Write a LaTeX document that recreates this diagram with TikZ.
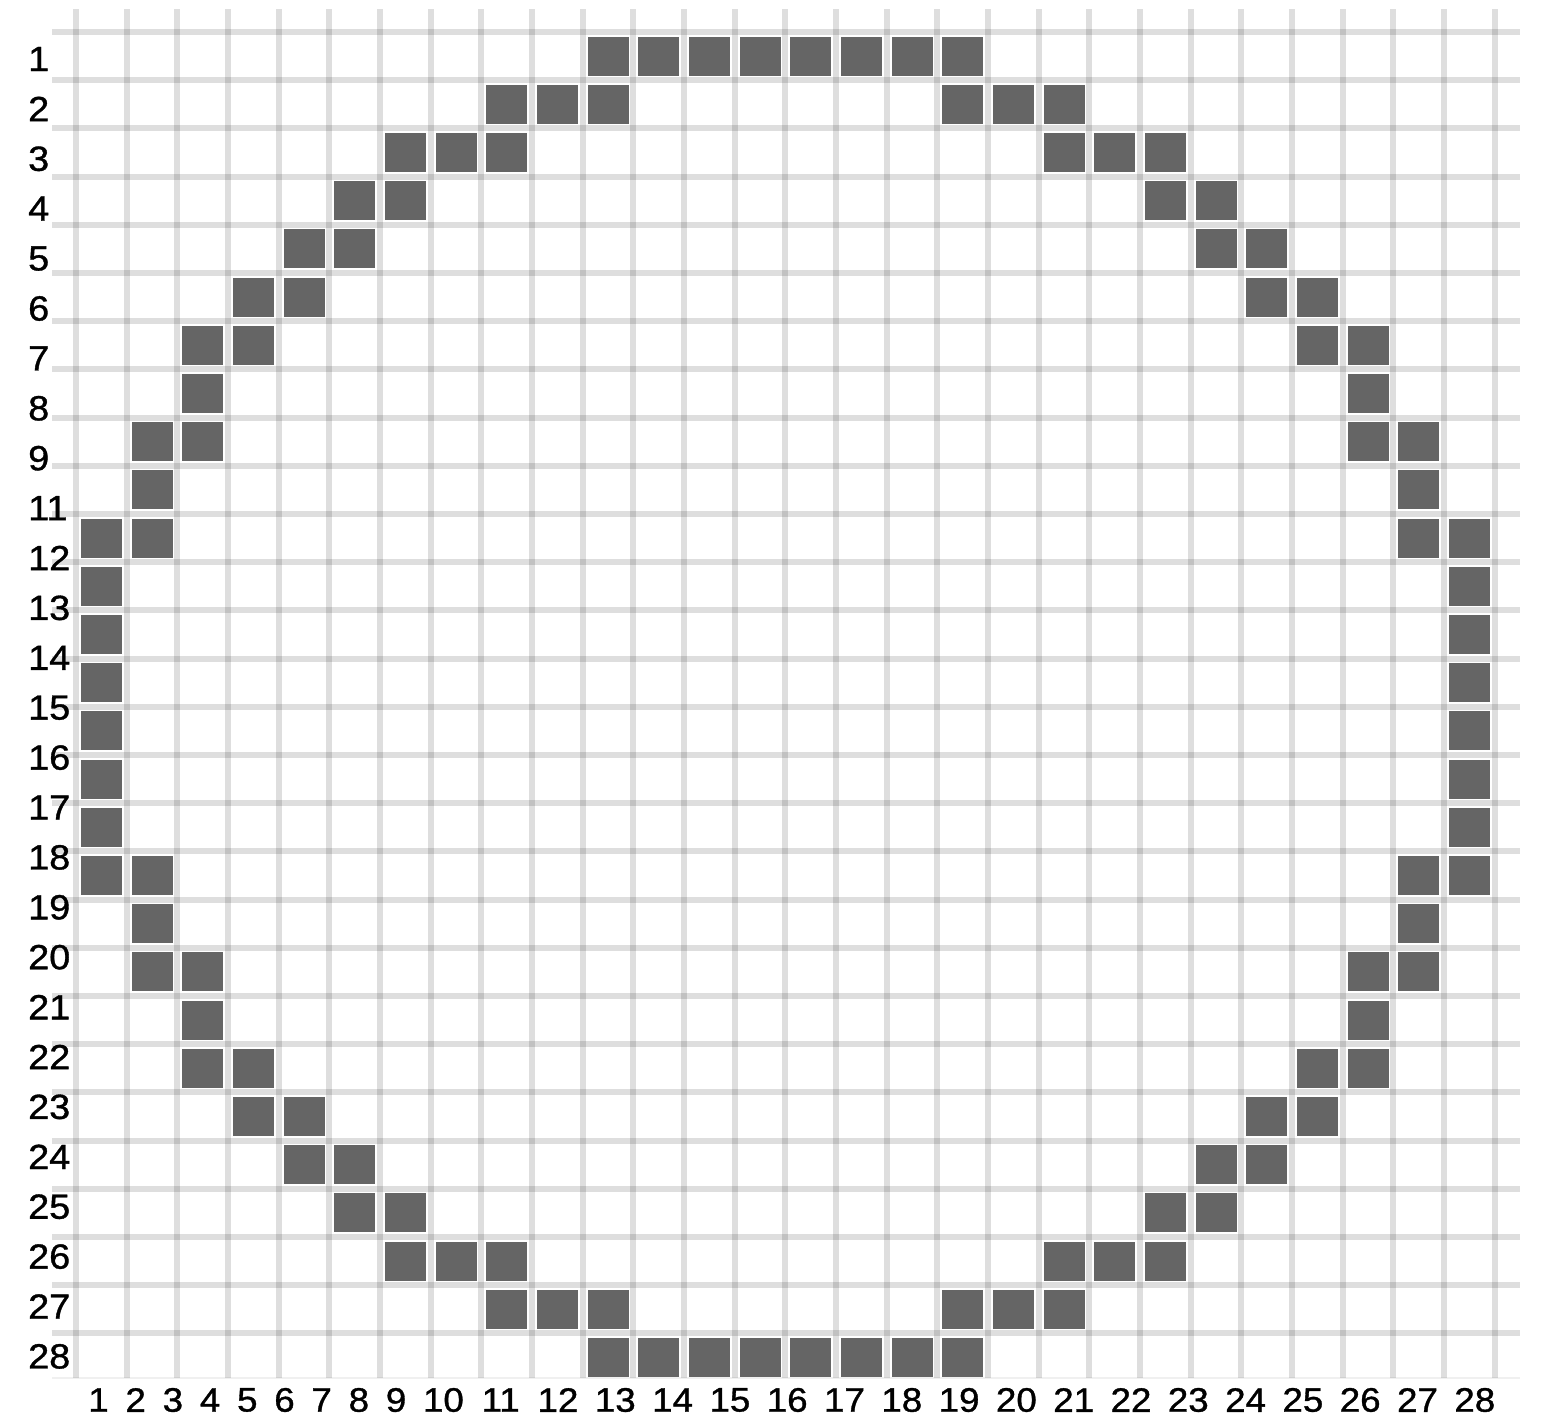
\documentclass[tikz,border=0pt]{standalone}
\usepackage{fontspec}
\setmainfont{Liberation Sans}[FakeStretch=1.08,FakeBold=1]
\begin{document}
\begin{tikzpicture}[x=1pt,y=-1pt,
  gridline/.style={line width=6pt, draw=black, draw opacity=0.13},
  cellfill/.style={fill=black!60.5},
  rowlabel/.style={anchor=west, inner sep=0pt, text=black, font=\fontsize{35}{36}\selectfont},
  collabel/.style={anchor=center, inner sep=0pt, text=black, font=\fontsize{34}{35}\selectfont}]
\useasboundingbox (0,0) rectangle (1551,1417);
\fill[white] (0,0) rectangle (1551,1417);
% grid
\foreach \k in {0,...,28}
  \draw[gridline] ({76+50.67*\k},9) -- ({76+50.67*\k},1378);
\foreach \k in {0,...,27}
  \draw[gridline] (52,{32+48.2*\k}) -- (1520,{32+48.2*\k});
\draw[line width=1.5pt, draw=black, draw opacity=0.06] (52,1378) -- (1520,1378);
% filled cells (one quadrant, mirrored four ways)
\foreach \c/\r in {11/1,12/1,13/1,14/1,9/2,10/2,11/2,7/3,8/3,9/3,6/4,7/4,5/5,6/5,4/6,5/6,3/7,4/7,3/8,2/9,3/9,2/10,1/11,2/11,1/12,1/13,1/14}{
  \fill[cellfill] ({101.33+50.67*(\c-1)-20.5},{56.1+48.2*(\r-1)-19.5}) rectangle ++(41,39);
  \fill[cellfill] ({101.33+50.67*(28-\c)-20.5},{56.1+48.2*(\r-1)-19.5}) rectangle ++(41,39);
  \fill[cellfill] ({101.33+50.67*(\c-1)-20.5},{56.1+48.2*(28-\r)-19.5}) rectangle ++(41,39);
  \fill[cellfill] ({101.33+50.67*(28-\c)-20.5},{56.1+48.2*(28-\r)-19.5}) rectangle ++(41,39);
}
% row labels
\foreach \t [count=\i from 0] in {1,2,3,4,5,6,7,8,9,11,12,13,14,15,16,17,18,19,20,21,22,23,24,25,26,27,28}
  \node[rowlabel] (r\t) at (28,{59+49.9*\i}) {\t};
% column labels
\foreach \i in {1,...,28}{
  \pgfmathsetmacro\xx{\i<10 ? 98.5+37.2*(\i-1) : 443.4+57.3*(\i-10)}
  \node[collabel] (c\i) at (\xx,1400) {\i};
}
\end{tikzpicture}
\end{document}
